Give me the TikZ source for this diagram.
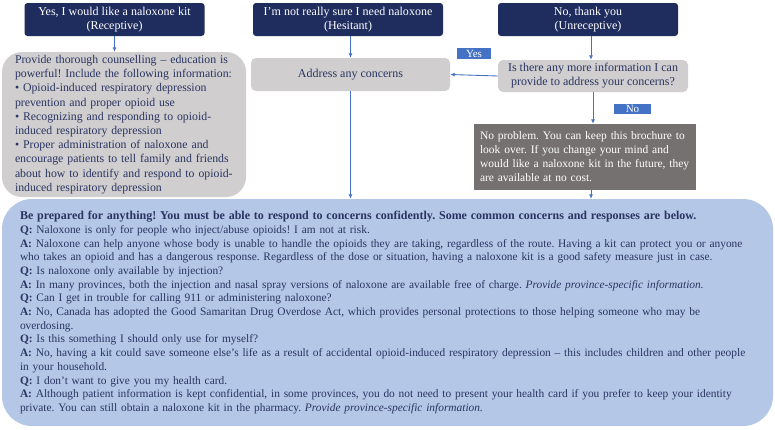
\documentclass[tikz,border=0pt]{standalone}
\usepackage{fontspec}
\setmainfont{Liberation Serif}
\usetikzlibrary{arrows.meta}
\definecolor{navybox}{HTML}{1F2C5E}
\definecolor{navytext}{HTML}{2A3462}
\definecolor{arrowblue}{HTML}{4472C4}
\definecolor{lightgray}{HTML}{D0CECE}
\definecolor{darkgraybox}{HTML}{767171}
\definecolor{paleblue}{HTML}{B4C7E7}
\tikzset{
  topbox/.style={fill=navybox, text=white, rounded corners=3pt, align=center,
    minimum height=33pt, inner sep=2pt, font=\fontsize{12}{14}\selectfont},
  graybox/.style={fill=lightgray, text=navytext, align=center, inner sep=2pt,
    font=\fontsize{12}{14}\selectfont},
  tagbox/.style={fill=arrowblue, text=white, inner sep=0pt, font=\fontsize{11}{12}\selectfont},
  flow/.style={draw=arrowblue, line width=0.9pt, -{Latex[length=4.5pt,width=4pt]}},
}
\begin{document}
\frenchspacing
\begin{tikzpicture}[x=1pt,y=-1pt]
\useasboundingbox (0,0) rectangle (775,429);
% top boxes
\node[topbox, minimum width=180pt] (rec) at (114.5,19.5) {Yes, I would like a naloxone kit\\(Receptive)};
\node[topbox, minimum width=190pt] (hes) at (348,19.5) {I’m not really sure I need naloxone\\(Hesitant)};
\node[topbox, minimum width=180pt] (unr) at (588,19.5) {No, thank you\\(Unreceptive)};
% left counselling box
\node[graybox, rounded corners=20pt, minimum width=244pt, minimum height=145pt,
  inner xsep=13pt, text width=218pt, align=left, font=\fontsize{11.8}{14.2}\selectfont] (couns) at (124,124.5)
  {Provide thorough counselling – education is\\
   powerful! Include the following information:\\
   • Opioid-induced respiratory depression\\
   prevention and proper opioid use\\
   • Recognizing and responding to opioid-\\
   induced respiratory depression\\
   • Proper administration of naloxone and\\
   encourage patients to tell family and friends\\
   about how to identify and respond to opioid-\\
   induced respiratory depression};
% address
\node[graybox, rounded corners=5pt, minimum width=199pt, minimum height=33pt] (addr) at (350.5,74.5) {Address any concerns};
% question
\node[graybox, rounded corners=5pt, minimum width=190pt, minimum height=32pt] (ques) at (593,76) {Is there any more information I can\\provide to address your concerns?};
% tags
\node[tagbox, minimum width=34pt, minimum height=11pt] (yes) at (474,53.5) {Yes};
\node[tagbox, minimum width=37pt, minimum height=10pt] (no) at (632.5,109) {No};
% dark gray box
\node[fill=darkgraybox, text=white, minimum width=222pt, minimum height=66pt,
  inner xsep=6pt, text width=210pt, align=left, font=\fontsize{11.5}{14}\selectfont] (nop) at (585,157)
  {No problem. You can keep this brochure to\\
   look over. If you change your mind and\\
   would like a naloxone kit in the future, they\\
   are available at no cost.};
% big Q&A box
\node[fill=paleblue, text=navytext, rounded corners=30pt, minimum width=771pt, minimum height=227pt,
  inner xsep=18pt, text width=735pt, align=left, font=\fontsize{11.4}{13.7}\selectfont] (qa) at (387.5,312.5)
  {{\fontsize{12}{13.7}\selectfont\textbf{Be prepared for anything! You must be able to respond to concerns confidently. Some common concerns and responses are below.}}\\
   \textbf{Q:} Naloxone is only for people who inject/abuse opioids! I am not at risk.\\
   \textbf{A:} Naloxone can help anyone whose body is unable to handle the opioids they are taking, regardless of the route. Having a kit can protect you or anyone\\
   who takes an opioid and has a dangerous response. Regardless of the dose or situation, having a naloxone kit is a good safety measure just in case.\\
   \textbf{Q:} Is naloxone only available by injection?\\
   \textbf{A:} In many provinces, both the injection and nasal spray versions of naloxone are available free of charge. \textit{Provide province-specific information.}\\
   \textbf{Q:} Can I get in trouble for calling 911 or administering naloxone?\\
   \textbf{A:} No, Canada has adopted the Good Samaritan Drug Overdose Act, which provides personal protections to those helping someone who may be\\
   overdosing.\\
   \textbf{Q:} Is this something I should only use for myself?\\
   \textbf{A:} No, having a kit could save someone else’s life as a result of accidental opioid-induced respiratory depression – this includes children and other people\\
   in your household.\\
   \textbf{Q:} I don’t want to give you my health card.\\
   \textbf{A:} Although patient information is kept confidential, in some provinces, you do not need to present your health card if you prefer to keep your identity\\
   private. You can still obtain a naloxone kit in the pharmacy. \textit{Provide province-specific information.}};
% connectors
\draw[flow] (rec.south) -- (rec.south |- couns.north);
\draw[flow] (hes.south -| addr.north) -- (addr.north);
\draw[flow] (unr.south -| ques.north) ++(-2,0) coordinate (uq) -- (uq |- ques.north);
\draw[flow] (ques.west) -- (addr.east);
\draw[flow] (ques.south) -- (ques.south |- nop.north);
\draw[flow] (nop.south -| uq) -- (uq |- qa.north);
\draw[flow] (addr.south) -- (addr.south |- qa.north);
\end{tikzpicture}
\end{document}
